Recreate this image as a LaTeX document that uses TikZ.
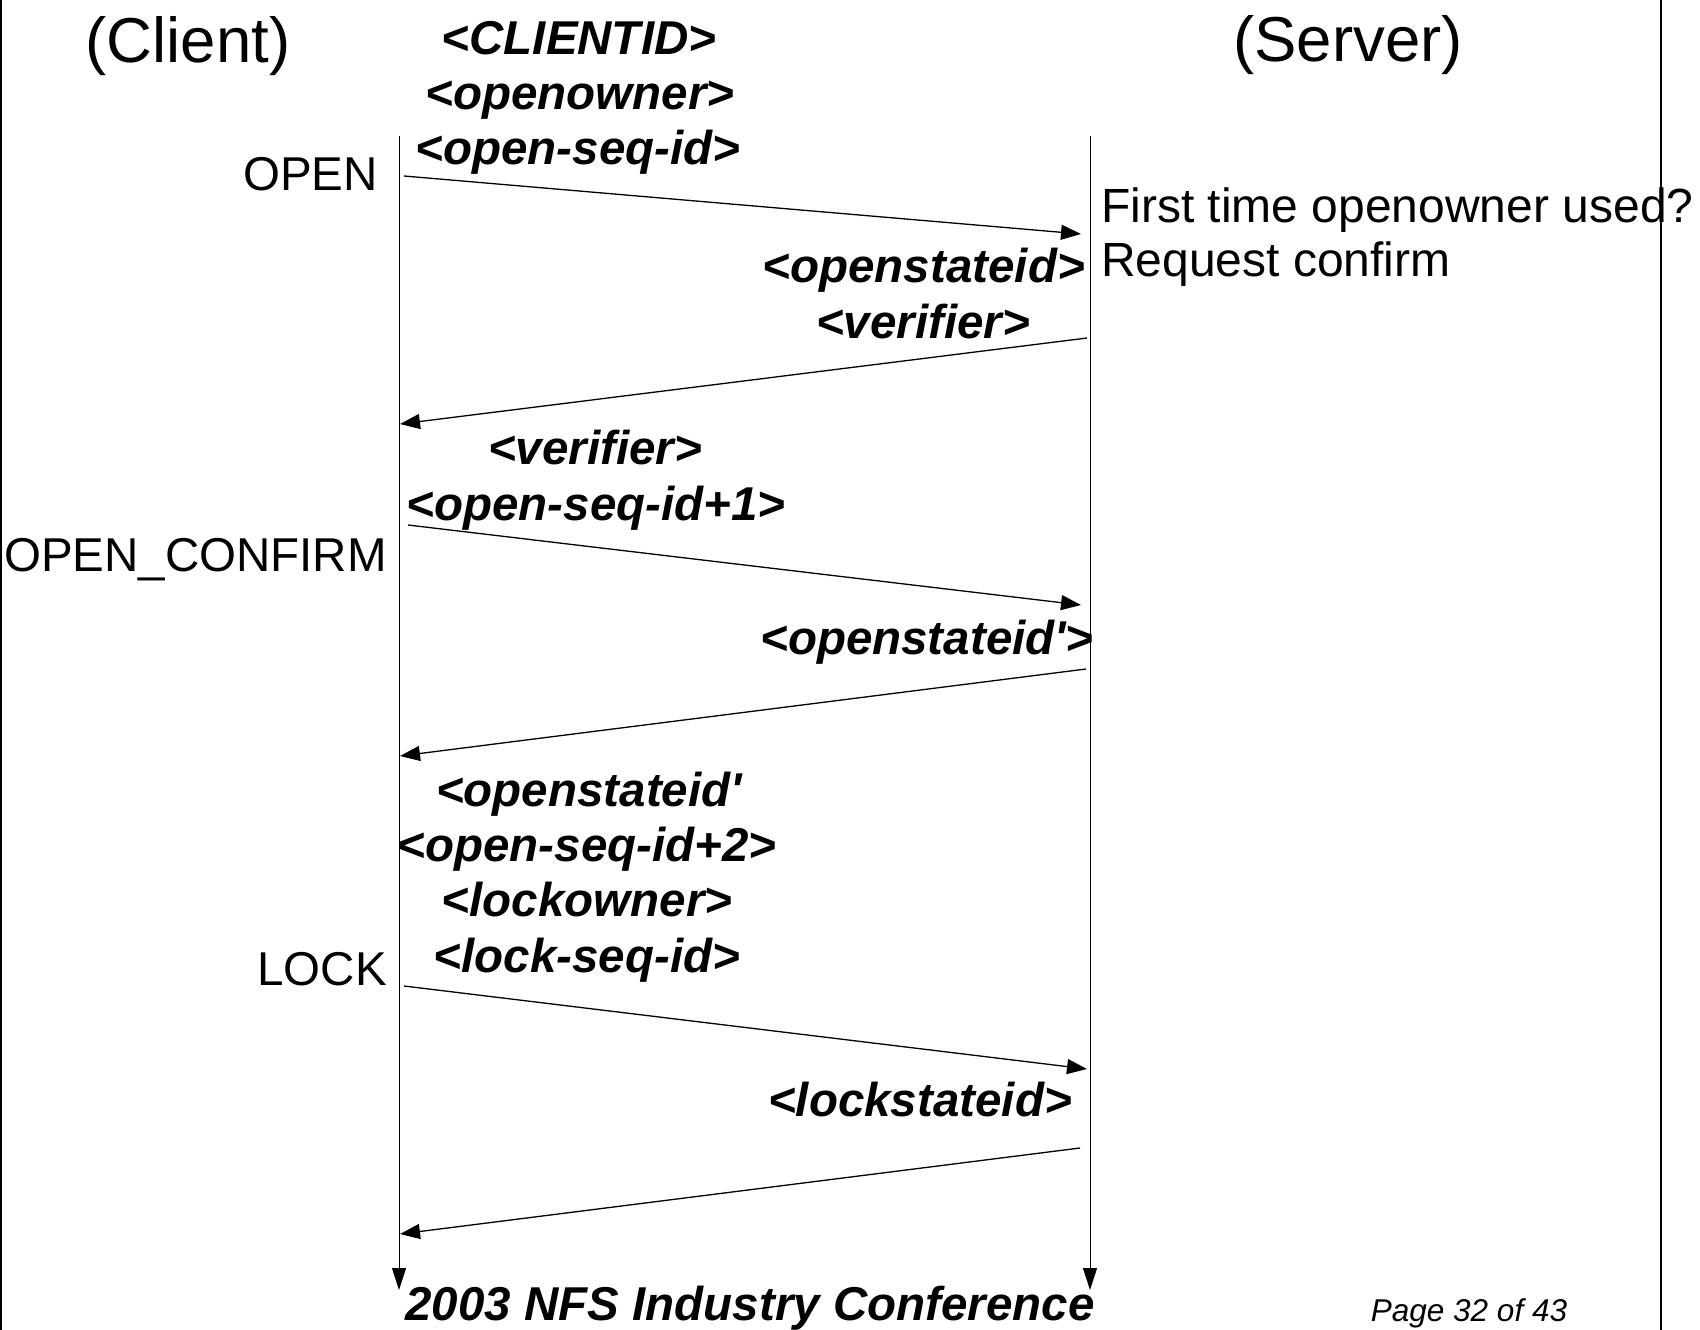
\documentclass[tikz,border=0pt]{standalone}
\usepackage{fontspec}
\setmainfont{Liberation Sans}
\usetikzlibrary{arrows.meta}
\begin{document}
\begin{tikzpicture}[x=1pt,y=-1pt,
  lbl/.style={inner sep=0pt,font=\fontsize{47.5}{55}\selectfont},
  bi/.style={inner sep=0pt,font=\fontsize{47.5}{55}\selectfont\bfseries\itshape},
  title/.style={inner sep=0pt,font=\fontsize{63.5}{70}\selectfont},
  msg/.style={line width=1.3pt,-{Triangle[length=20pt,width=15pt]}},
  life/.style={line width=1pt,-{Triangle[length=22pt,width=14pt]}},
  frame/.style={line width=2pt}]
\useasboundingbox (0,0) rectangle (1700,1330);
% frame lines
\coordinate (fl1) at (1,0); \coordinate (fl2) at (1,1330);
\coordinate (fr1) at (1661,0); \coordinate (fr2) at (1661,1330);
\draw[frame] (fl1) -- (fl2);
\draw[frame] (fr1) -- (fr2);
% lifelines
\coordinate (ctop) at (399,136); \coordinate (cbot) at (399,1290);
\coordinate (stop) at (1090,136); \coordinate (sbot) at (1090,1290);
\draw[life] (ctop) -- (cbot);
\draw[life] (stop) -- (sbot);
% titles
\node[title,anchor=base] (client) at (188,63) {(Client)};
\node[title,anchor=base] (server) at (1348,62) {(Server)};
% OPEN
\node[bi,anchor=base] (t1) at (579,55) {<CLIENTID>};
\node[bi,anchor=base] (t2) at (580,109) {<openowner>};
\node[bi,anchor=base] (t3) at (578,164) {<open-seq-id>};
\node[lbl,anchor=base east] (open) at (378,190) {OPEN};
\coordinate (a1s) at (404,176); \coordinate (a1e) at (1081,234);
\draw[msg] (a1s) -- (a1e);
\node[lbl,font=\fontsize{48}{55}\selectfont,anchor=base west] (n1) at (1101,222) {First time openowner used?};
\node[lbl,font=\fontsize{48}{55}\selectfont,anchor=base west] (n2) at (1101,276) {Request confirm};
\node[bi,anchor=base east] (r1) at (1085,282) {<openstateid>};
\node[bi,anchor=base] (r2) at (923,338) {<verifier>};
\coordinate (a2s) at (1087,338); \coordinate (a2e) at (400,424);
\draw[msg] (a2s) -- (a2e);
% OPEN_CONFIRM
\node[bi,anchor=base] (c1) at (595,464) {<verifier>};
\node[bi,anchor=base] (c2) at (596,520) {<open-seq-id+1>};
\node[lbl,anchor=base east] (oc) at (387,571) {OPEN\_CONFIRM};
\coordinate (a3s) at (408,525); \coordinate (a3e) at (1081,605);
\draw[msg] (a3s) -- (a3e);
\node[bi,anchor=base] (r3) at (927,654) {<openstateid\textquotesingle>};
\coordinate (a4s) at (1086,669); \coordinate (a4e) at (400,756);
\draw[msg] (a4s) -- (a4e);
% LOCK
\node[bi,anchor=base] (l1) at (589,806) {<openstateid\textquotesingle};
\node[bi,anchor=base] (l2) at (587,861) {<open-seq-id+2>};
\node[bi,anchor=base] (l3) at (587,916) {<lockowner>};
\node[bi,anchor=base] (l4) at (587,972) {<lock-seq-id>};
\node[lbl,anchor=base east] (lock) at (387,985) {LOCK};
\coordinate (a5s) at (404,986); \coordinate (a5e) at (1087,1069);
\draw[msg] (a5s) -- (a5e);
\node[bi,anchor=base] (r4) at (920,1116) {<lockstateid>};
\coordinate (a6s) at (1080,1148); \coordinate (a6e) at (400,1234);
\draw[msg] (a6s) -- (a6e);
% footer
\node[bi,font=\fontsize{47.5}{55}\selectfont\bfseries\itshape,anchor=base] (conf) at (750,1320) {2003 NFS Industry Conference};
\node[lbl,font=\fontsize{31.5}{36}\selectfont\itshape,anchor=base] (page) at (1469,1321) {Page 32 of 43};
\end{tikzpicture}
\end{document}
